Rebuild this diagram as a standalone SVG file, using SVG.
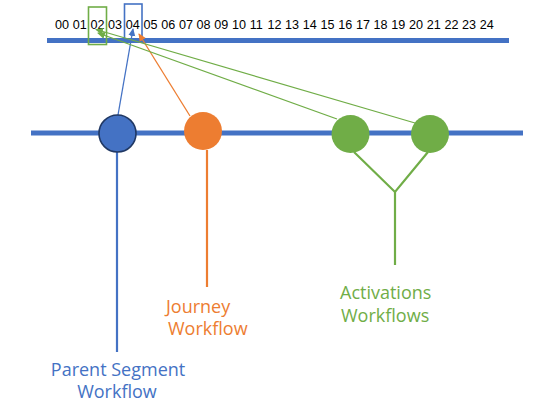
<svg xmlns="http://www.w3.org/2000/svg" width="551" height="412" viewBox="0 0 551 412">
<style>
.axis{stroke:#4472C4;stroke-width:5;fill:none}
.num{font-family:"Liberation Sans",Arial,sans-serif;font-size:12.6px;fill:#000}
.lbl{font-family:"Open Sans","Noto Sans",sans-serif;font-size:18px}
.conn{stroke-width:1.3;fill:none}
.stem{stroke-width:2.2;fill:none}
</style>
<defs>
<marker id="ab" markerUnits="userSpaceOnUse" markerWidth="8" markerHeight="8" viewBox="0 0 8 8" refX="7" refY="4" orient="auto"><path d="M0,0.5 L8,4 L0,7.5 Z" fill="#4472C4"/></marker>
<marker id="ao" markerUnits="userSpaceOnUse" markerWidth="8" markerHeight="8" viewBox="0 0 8 8" refX="7" refY="4" orient="auto"><path d="M0,0.5 L8,4 L0,7.5 Z" fill="#ED7D31"/></marker>
<marker id="ag" markerUnits="userSpaceOnUse" markerWidth="8" markerHeight="8" viewBox="0 0 8 8" refX="7" refY="4" orient="auto"><path d="M0,0.5 L8,4 L0,7.5 Z" fill="#70AD47"/></marker>
</defs>
<rect width="551" height="412" fill="#fff"/>
<g id="timeline">
<line class="axis" x1="47" y1="40.5" x2="509" y2="40.5"/>
<text class="num" y="28.5"><tspan x="55">00</tspan><tspan x="72.7">01</tspan><tspan x="90.4">02</tspan><tspan x="108.1">03</tspan><tspan x="125.8">04</tspan><tspan x="143.5">05</tspan><tspan x="161.2">06</tspan><tspan x="178.9">07</tspan><tspan x="196.6">08</tspan><tspan x="214.3">09</tspan><tspan x="232">10</tspan><tspan x="249.7">11</tspan><tspan x="267.4">12</tspan><tspan x="285.1">13</tspan><tspan x="302.8">14</tspan><tspan x="320.5">15</tspan><tspan x="338.2">16</tspan><tspan x="355.9">17</tspan><tspan x="373.6">18</tspan><tspan x="391.3">19</tspan><tspan x="409">20</tspan><tspan x="426.7">21</tspan><tspan x="444.4">22</tspan><tspan x="462.1">23</tspan><tspan x="479.8">24</tspan></text>
<rect x="88.5" y="7" width="18" height="37.5" fill="none" stroke="#70AD47" stroke-width="1.6"/>
<rect x="124.5" y="4" width="17.5" height="35" fill="none" stroke="#4472C4" stroke-width="1.6"/>
</g>
<g id="main-line">
<line class="axis" x1="31" y1="133" x2="523" y2="133"/>
</g>
<g id="connectors">
<line class="conn" stroke="#4472C4" x1="118" y1="115" x2="133" y2="29" marker-end="url(#ab)"/>
<line class="conn" stroke="#ED7D31" x1="190" y1="116" x2="139" y2="34" marker-end="url(#ao)"/>
<line class="conn" stroke="#70AD47" x1="415" y1="123" x2="96" y2="29.5" marker-end="url(#ag)"/>
<line class="conn" stroke="#70AD47" x1="337" y1="119" x2="98" y2="33" marker-end="url(#ag)"/>
<line class="stem" stroke="#4472C4" x1="117" y1="152" x2="117" y2="352"/>
<line class="stem" stroke="#ED7D31" x1="207" y1="150" x2="207" y2="287"/>
<polyline class="stem" stroke="#70AD47" points="354,152 395,192 428,152"/>
<line class="stem" stroke="#70AD47" x1="395" y1="191" x2="395" y2="265"/>
</g>
<g id="parent-segment">
<circle cx="117.5" cy="133.5" r="18.5" fill="#4472C4" stroke="#203864" stroke-width="1.6"/>
<text class="lbl" fill="#4472C4" text-anchor="middle"><tspan x="118" y="376">Parent Segment</tspan><tspan x="117" y="398">Workflow</tspan></text>
</g>
<g id="journey">
<circle cx="203" cy="131" r="19" fill="#ED7D31"/>
<text class="lbl" fill="#ED7D31"><tspan x="166" y="312.5">Journey</tspan><tspan x="168" y="335">Workflow</tspan></text>
</g>
<g id="activation-1">
<circle cx="350.5" cy="134" r="19" fill="#70AD47"/>
</g>
<g id="activation-2">
<circle cx="430" cy="134" r="19" fill="#70AD47"/>
</g>
<g id="activations-label">
<text class="lbl" fill="#70AD47"><tspan x="340" y="298.5">Activations</tspan><tspan x="341" y="322">Workflows</tspan></text>
</g>
</svg>
